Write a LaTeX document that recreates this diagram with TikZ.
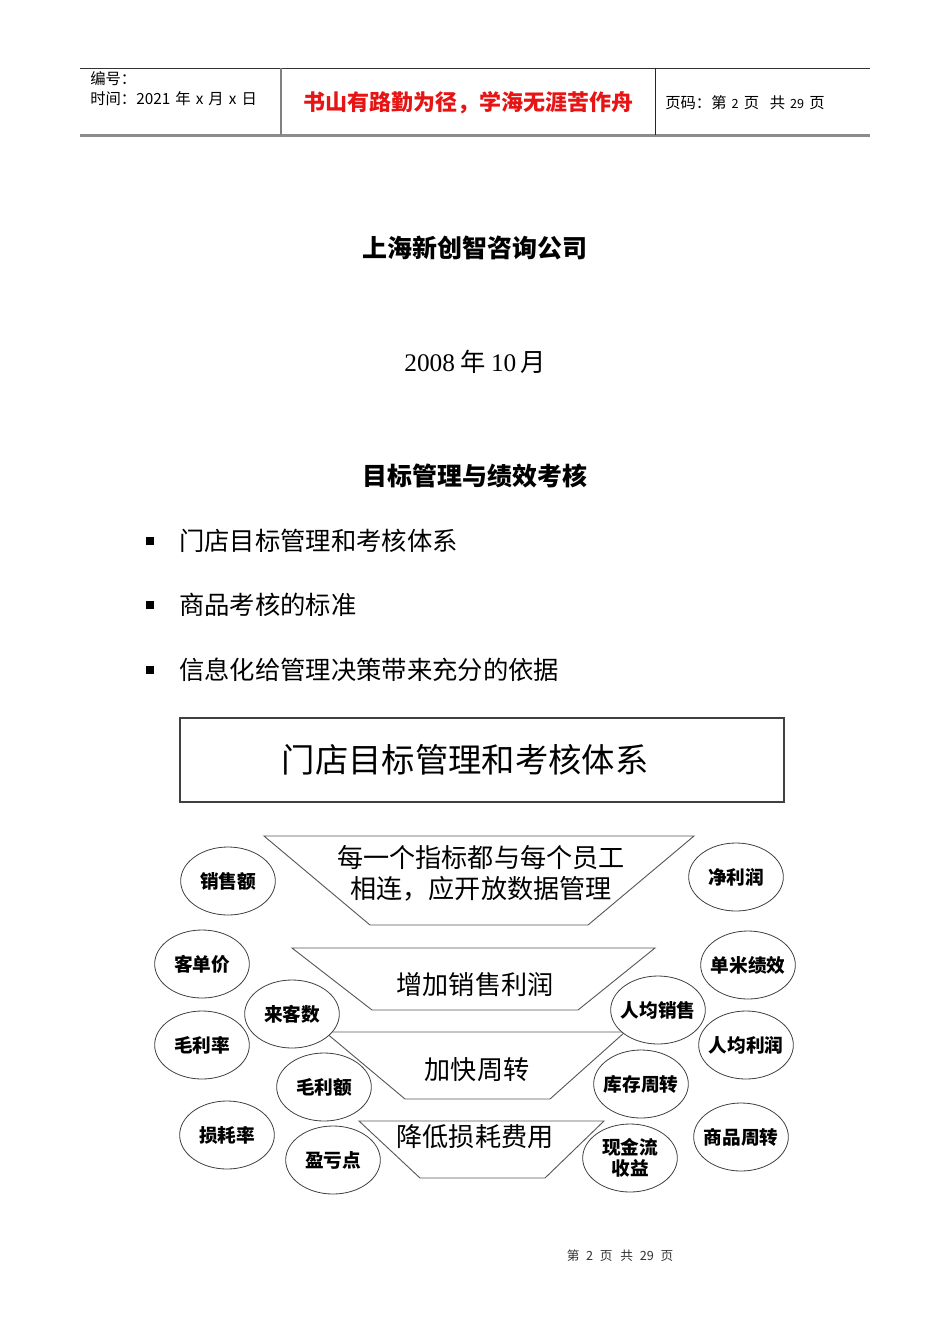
\documentclass[tikz,border=0pt]{standalone}
\usepackage{fontspec}
\setmainfont{Liberation Serif}
\newfontfamily\cjk{Noto Sans CJK SC}
\usetikzlibrary{shapes.geometric}
\definecolor{hdrred}{RGB}{230,20,20}
\tikzset{
  oval/.style={ellipse, draw=black!75, fill=white, line width=0.6pt,
    minimum width=71pt, minimum height=51pt, inner xsep=-8pt, inner ysep=-4pt, align=center,
    font=\cjk\bfseries\fontsize{14}{15}\selectfont},
  trap/.style={draw=black!65, line width=0.7pt},
  traptext/.style={font=\cjk\fontsize{19.6}{23}\selectfont, inner sep=0pt, align=center},
  hdr/.style={font=\cjk\fontsize{11.5}{13}\selectfont, inner sep=0pt, anchor=west},
  bodytxt/.style={font=\cjk\fontsize{19}{22}\selectfont, inner sep=0pt},
  bul/.style={fill=black, minimum size=5.5pt, inner sep=0pt},
}
\newcommand\gp{\hspace{3.8pt}}
\begin{document}
\begin{tikzpicture}[x=0.75pt,y=-0.75pt]
\useasboundingbox (0,0) rectangle (950,1344);
% header
\draw[black!80, line width=0.6pt] (80,68) -- (870,68);
\draw[black!45, line width=1.6pt] (80,135.5) -- (870,135.5);
\draw[black!50, line width=1pt] (281,68) -- (281,135);
\draw[black!85, line width=0.6pt] (655,68) -- (655,135);
\node[hdr] (bh) at (90,79) {编号：};
\node[hdr] (sj) at (90,99) {时间：2021\gp 年\gp x\gp 月\gp x\gp 日};
\node[font=\cjk\bfseries\fontsize{16.5}{19}\selectfont, text=hdrred, inner sep=0pt] (motto) at (468,103) {书山有路勤为径，学海无涯苦作舟};
\node[hdr] (ym) at (665,103) {页码：第\gp{\fontsize{9.5}{11}\selectfont 2}\gp 页\hspace{8pt}共\gp{\fontsize{9.5}{11}\selectfont 29}\gp 页};
% titles
\node[font=\cjk\bfseries\fontsize{18.7}{22}\selectfont, inner sep=0pt] (t1) at (475,248) {上海新创智咨询公司};
\node[font=\fontsize{19}{22}\selectfont, inner sep=0pt] (t2) at (475,362) {2008\hspace{4pt}{\cjk 年}\hspace{4pt}10\hspace{3pt}{\cjk 月}};
\node[font=\cjk\bfseries\fontsize{18.7}{22}\selectfont, inner sep=0pt] (t3) at (475,476) {目标管理与绩效考核};
% bullets
\node[bul] (b1) at (150,541) {};
\node[bul] (b2) at (150,605) {};
\node[bul] (b3) at (150,670) {};
\node[bodytxt, anchor=west] (l1) at (179,541) {门店目标管理和考核体系};
\node[bodytxt, anchor=west] (l2) at (179,605) {商品考核的标准};
\node[bodytxt, anchor=west] (l3) at (179,670) {信息化给管理决策带来充分的依据};
% box
\draw[black!75, line width=0.9pt] (180,718) rectangle (784,802);
\node[font=\cjk\fontsize{25}{28}\selectfont, inner sep=0pt] (boxt) at (465,760) {门店目标管理和考核体系};
% trapezoids
\draw[trap] (264,836) -- (694,836) -- (588,925) -- (370,925) -- cycle;
\draw[trap] (292,948) -- (655,948) -- (578,1010) -- (372,1010) -- cycle;
\draw[trap] (325,1032) -- (625,1032) -- (550,1099) -- (405,1099) -- cycle;
\draw[trap] (359,1121) -- (604,1121) -- (545,1178) -- (420,1178) -- cycle;
\node[traptext] (tp1a) at (481,858) {每一个指标都与每个员工};
\node[traptext] (tp1b) at (481,889) {相连，应开放数据管理};
\node[traptext] (tp2) at (475,985) {增加销售利润};
\node[traptext] (tp3) at (477,1070) {加快周转};
\node[traptext] (tp4) at (475,1137) {降低损耗费用};
% ellipses
\node[oval] (e1) at (228,881) {销售额};
\node[oval] (e2) at (736,877) {净利润};
\node[oval] (e3) at (202,964) {客单价};
\node[oval] (e4) at (748,965) {单米绩效};
\node[oval] (e5) at (292,1014) {来客数};
\node[oval] (e6) at (658,1010) {人均销售};
\node[oval] (e7) at (202,1045) {毛利率};
\node[oval] (e8) at (746,1045) {人均利润};
\node[oval] (e9) at (324,1087) {毛利额};
\node[oval] (e10) at (641,1084) {库存周转};
\node[oval] (e11) at (227,1135) {损耗率};
\node[oval] (e12) at (741,1137) {商品周转};
\node[oval] (e13) at (333,1160) {盈亏点};
\node[oval, font=\cjk\bfseries\fontsize{14}{16}\selectfont, inner ysep=-10pt] (e14) at (630,1158) {现金流\\收益};
% footer
\node[font=\cjk\fontsize{9.5}{11}\selectfont, inner sep=0pt, text=black!80] (ft) at (620,1256) {第\hspace{5pt}2\hspace{5pt}页\hspace{6pt}共\hspace{5pt}29\hspace{5pt}页};
\end{tikzpicture}
\end{document}
